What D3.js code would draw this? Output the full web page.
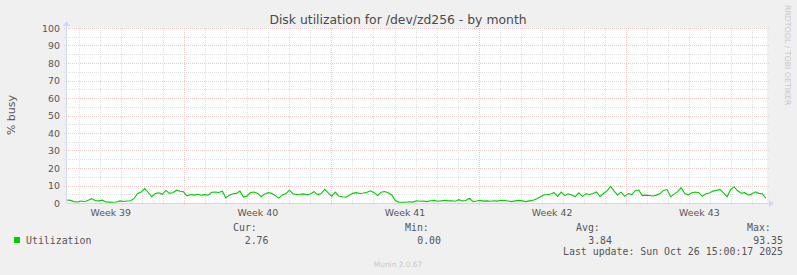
<!DOCTYPE html>
<html>
<head>
<meta charset="utf-8">
<script src="https://cdn.jsdelivr.net/npm/d3@7"></script>
<style>
  body { margin: 0; background: #f0f0f0; }
  svg { display: block; }
</style>
</head>
<body>
<div id="chart"></div>
<script>

// Data (% busy, one value every ~4 hours)
var utilization = [
  1.7, 1.5, 0.8, 0.6, 1.1, 0.7, 1.6, 2.5, 1.3, 1.2,
  1.6, 0.6, 0.5, 0.4, 0.6, 1.2, 0.9, 1.1, 1.3, 2.6,
  5.5, 6.3, 8.2, 6.0, 3.6, 5.4, 5.8, 5.0, 7.2, 5.5,
  5.9, 7.3, 6.7, 6.4, 4.1, 4.8, 4.5, 5.0, 4.4, 4.8,
  4.5, 6.1, 6.3, 6.0, 6.7, 2.9, 4.5, 5.3, 5.5, 6.8,
  3.4, 4.0, 6.0, 6.3, 5.5, 3.6, 5.2, 5.9, 5.5, 4.2,
  2.8, 4.6, 5.4, 7.3, 5.3, 4.9, 5.0, 5.2, 4.7, 5.1,
  6.5, 4.8, 5.4, 7.8, 5.8, 3.8, 6.2, 4.0, 3.6, 3.3,
  4.4, 5.5, 5.9, 5.4, 5.7, 6.1, 7.0, 5.9, 4.3, 6.2,
  6.6, 5.8, 4.6, 1.4, 0.5, 0.4, 0.4, 0.7, 0.5, 1.3,
  1.0, 1.1, 0.8, 1.3, 1.5, 1.0, 1.2, 1.6, 1.2, 1.3,
  1.0, 1.9, 1.2, 1.4, 2.7, 0.8, 1.1, 1.5, 1.1, 1.2,
  1.0, 1.3, 1.1, 1.6, 1.4, 1.1, 0.8, 1.2, 1.5, 1.2,
  0.8, 1.2, 1.6, 2.3, 3.4, 4.6, 4.8, 5.1, 5.9, 3.8,
  6.2, 4.2, 5.3, 4.6, 3.7, 5.8, 3.8, 5.3, 4.9, 5.4,
  6.3, 3.7, 5.4, 6.9, 9.5, 6.8, 4.6, 6.2, 3.8, 5.4,
  4.8, 7.0, 7.4, 4.2, 4.5, 4.3, 4.0, 4.5, 5.4, 7.2,
  7.7, 3.6, 5.1, 6.5, 8.8, 5.4, 4.6, 5.9, 6.3, 5.9,
  3.8, 5.3, 5.7, 6.8, 7.2, 7.8, 5.8, 3.6, 7.6, 9.2,
  7.0, 5.6, 5.9, 4.6, 5.2, 6.4, 5.5, 5.3, 2.7
];
var startTime = new Date(Date.UTC(2025, 8, 23, 10, 5));
var endTime = new Date(Date.UTC(2025, 9, 26, 17, 17));
var stepHours = 4.03;

var yTicks = [0, 10, 20, 30, 40, 50, 60, 70, 80, 90, 100];
var yMinorTicks = [5, 15, 25, 35, 45, 55, 65, 75, 85, 95];

var seriesName = "Utilization";
var legendHeads = ["Cur:", "Min:", "Avg:", "Max:"];
var legendValues = ["2.76", "0.00", "3.84", "93.35"];
var lastUpdate = "Last update: Sun Oct 26 15:00:17 2025";
var title = "Disk utilization for /dev/zd256 - by month";

// Set up SVG frame
var svgWidth = 797;
var svgHeight = 275;

var Margin = { top: 28, left: 67, right: 30, bottom: 72 };
var width = svgWidth - Margin.left - Margin.right;   // 700
var height = svgHeight - Margin.top - Margin.bottom; // 175

var gridColor = "#e0e0e0";
var mgridColor = "#f0c8c8";
var axisColor = "#cfd6f8";
var fontColor = "#555";

var svg = d3.select("#chart")
  .append("svg")
  .attr("width", svgWidth)
  .attr("height", svgHeight)
  .style("background", "#f0f0f0");

var chartGroup = svg.append("g")
  .attr("transform", `translate(${Margin.left}, ${Margin.top})`);

// scales
var xTimeScale = d3.scaleUtc()
  .domain([startTime, endTime])
  .range([0, width]);

var yLinearScale = d3.scaleLinear()
  .domain([0, 100])
  .range([height, 0]);

var crisp = v => Math.round(v) + 0.5;

// canvas
chartGroup.append("rect")
  .attr("x", 0)
  .attr("y", 0)
  .attr("width", width)
  .attr("height", height)
  .attr("fill", "#ffffff");

// horizontal gridlines (minor grey, major red)
chartGroup.selectAll(".hgrid-minor")
  .data(yMinorTicks)
  .enter()
  .append("line")
  .attr("x1", -3)
  .attr("x2", width + 2)
  .attr("y1", d => crisp(yLinearScale(d)))
  .attr("y2", d => crisp(yLinearScale(d)))
  .attr("stroke", gridColor)
  .attr("stroke-dasharray", "1,1");

chartGroup.selectAll(".hgrid-major")
  .data(yTicks.filter(d => d > 0))
  .enter()
  .append("line")
  .attr("x1", -3)
  .attr("x2", width + 2)
  .attr("y1", d => crisp(yLinearScale(d)))
  .attr("y2", d => crisp(yLinearScale(d)))
  .attr("stroke", mgridColor)
  .attr("stroke-dasharray", "1,1");

// vertical gridlines, one per day, weeks in red
var mondays = d3.utcMonday.range(startTime, endTime);
var days = d3.utcDay.range(startTime, endTime)
  .filter(d => d.getUTCDay() !== 1);

chartGroup.selectAll(".vgrid-minor")
  .data(days)
  .enter()
  .append("line")
  .attr("x1", d => crisp(xTimeScale(d)))
  .attr("x2", d => crisp(xTimeScale(d)))
  .attr("y1", 0)
  .attr("y2", height + 2)
  .attr("stroke", gridColor)
  .attr("stroke-dasharray", "1,1");

chartGroup.selectAll(".vgrid-major")
  .data(mondays)
  .enter()
  .append("line")
  .attr("x1", d => crisp(xTimeScale(d)))
  .attr("x2", d => crisp(xTimeScale(d)))
  .attr("y1", 0)
  .attr("y2", height + 2)
  .attr("stroke", mgridColor)
  .attr("stroke-dasharray", "1,1");

// data line
var points = utilization.map((v, i) => ({
  time: new Date(startTime.getTime() + i * stepHours * 3600 * 1000),
  value: v
}));

var line = d3.line()
  .x(d => xTimeScale(d.time))
  .y(d => yLinearScale(d.value));

chartGroup.append("path")
  .datum(points)
  .attr("d", line)
  .attr("fill", "none")
  .attr("stroke", "#00cc00")
  .attr("stroke-width", 1.1);

// axes lines + arrows
chartGroup.append("line")
  .attr("x1", -0.5).attr("x2", -0.5)
  .attr("y1", height + 0.5).attr("y2", -3)
  .attr("stroke", axisColor);

chartGroup.append("line")
  .attr("x1", -0.5).attr("x2", width + 3)
  .attr("y1", height + 0.5).attr("y2", height + 0.5)
  .attr("stroke", axisColor);

chartGroup.append("path")
  .attr("d", `M-4,-2 L3,-2 L-0.5,-7 Z`)
  .attr("fill", axisColor);

chartGroup.append("path")
  .attr("d", `M${width + 2},${height - 3} L${width + 2},${height + 4} L${width + 7},${height + 0.5} Z`)
  .attr("fill", axisColor);

// y tick labels
chartGroup.selectAll(".ylabel")
  .data(yTicks)
  .enter()
  .append("text")
  .attr("x", -7)
  .attr("y", d => yLinearScale(d) + 3.5)
  .attr("text-anchor", "end")
  .attr("font-family", "DejaVu Sans")
  .attr("font-size", "9.4px")
  .attr("fill", fontColor)
  .text(d => d);

// week labels in the middle of each week
var weekStarts = d3.utcMonday.range(d3.utcMonday.floor(startTime), endTime);
var weekFormat = d3.utcFormat("%V");

chartGroup.selectAll(".xlabel")
  .data(weekStarts.filter(d => {
    var mid = d3.utcHour.offset(d, 84);
    return mid > startTime && mid < endTime;
  }))
  .enter()
  .append("text")
  .attr("x", d => xTimeScale(d3.utcHour.offset(d, 84)))
  .attr("y", height + 13)
  .attr("text-anchor", "middle")
  .attr("font-family", "DejaVu Sans")
  .attr("font-size", "9.4px")
  .attr("fill", fontColor)
  .text(d => "Week " + weekFormat(d));

// title
svg.append("text")
  .attr("x", 398)
  .attr("y", 24)
  .attr("text-anchor", "middle")
  .attr("font-family", "DejaVu Sans")
  .attr("font-size", "12.4px")
  .attr("fill", "#4a4a4a")
  .text(title);

// y axis label
svg.append("text")
  .attr("transform", "translate(15, 115) rotate(-90)")
  .attr("text-anchor", "middle")
  .attr("font-family", "DejaVu Sans")
  .attr("font-size", "11px")
  .attr("fill", fontColor)
  .text("% busy");

// watermark on the right
svg.append("text")
  .attr("transform", "translate(785, 5) rotate(90)")
  .attr("text-anchor", "start")
  .attr("font-family", "DejaVu Sans")
  .attr("font-size", "7.8px")
  .attr("fill", "#c8c8c8")
  .text("RRDTOOL / TOBI OETIKER");

// legend
var mono = "DejaVu Sans Mono";
var headX = [233, 405, 576, 747];
var valueX = [268.5, 441, 612, 783];

svg.append("rect")
  .attr("x", 14)
  .attr("y", 237)
  .attr("width", 6)
  .attr("height", 6)
  .attr("fill", "#00cc00");

svg.append("text")
  .attr("x", 26)
  .attr("y", 243.5)
  .attr("font-family", mono)
  .attr("font-size", "9.9px")
  .attr("fill", fontColor)
  .text(seriesName);

legendHeads.forEach(function(h, i) {
  svg.append("text")
    .attr("x", headX[i])
    .attr("y", 231)
    .attr("font-family", mono)
    .attr("font-size", "9.9px")
    .attr("fill", fontColor)
    .text(h);

  svg.append("text")
    .attr("x", valueX[i])
    .attr("y", 243.5)
    .attr("text-anchor", "end")
    .attr("font-family", mono)
    .attr("font-size", "9.9px")
    .attr("fill", fontColor)
    .text(legendValues[i]);
});

svg.append("text")
  .attr("x", 783)
  .attr("y", 255)
  .attr("text-anchor", "end")
  .attr("font-family", mono)
  .attr("font-size", "9.9px")
  .attr("fill", fontColor)
  .text(lastUpdate);

svg.append("text")
  .attr("x", 398)
  .attr("y", 267)
  .attr("text-anchor", "middle")
  .attr("font-family", "DejaVu Sans")
  .attr("font-size", "7.4px")
  .attr("fill", "#c8c8c8")
  .text("Munin 2.0.67");

</script>
</body>
</html>
